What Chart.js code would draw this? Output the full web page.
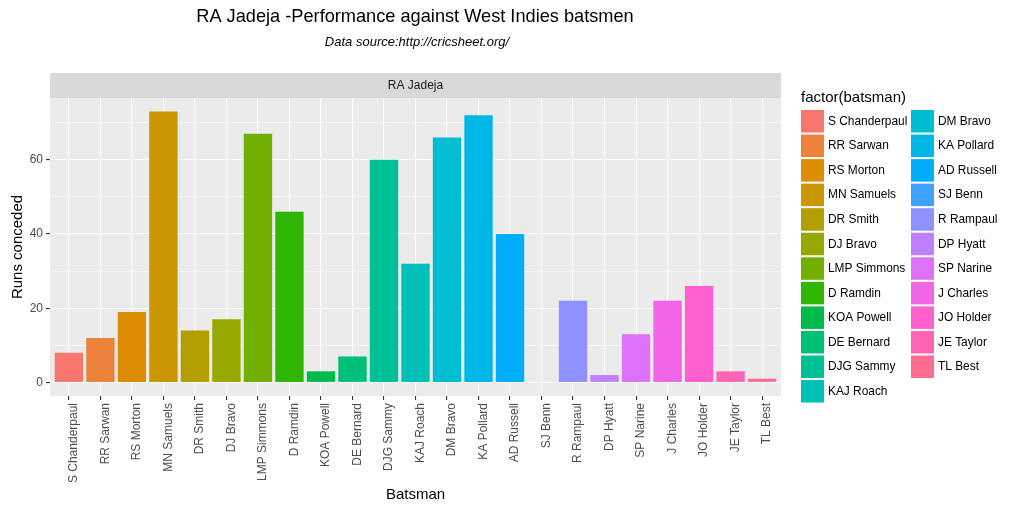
<!DOCTYPE html>
<html>
<head>
<meta charset="utf-8">
<script src="https://cdn.jsdelivr.net/npm/chart.js@4/dist/chart.umd.min.js"></script>
<style>
html,body{margin:0;padding:0;background:#fff;}
#wrap{width:1024px;height:512px;position:relative;}
</style>
</head>
<body>
<div id="wrap"><canvas id="c" width="1024" height="512"></canvas></div>
<script>
// ---- data ----
const chartTitle = "RA Jadeja -Performance against West Indies batsmen";
const chartSubtitle = "Data source:http://cricsheet.org/";
const facetLabel = "RA Jadeja";
const xAxisTitle = "Batsman";
const yAxisTitle = "Runs conceded";
const legendTitle = "factor(batsman)";
const batsmen = ["S Chanderpaul","RR Sarwan","RS Morton","MN Samuels","DR Smith","DJ Bravo","LMP Simmons","D Ramdin","KOA Powell","DE Bernard","DJG Sammy","KAJ Roach","DM Bravo","KA Pollard","AD Russell","SJ Benn","R Rampaul","DP Hyatt","SP Narine","J Charles","JO Holder","JE Taylor","TL Best"];
const runs = [8,12,19,73,14,17,67,46,3,7,60,32,66,72,40,0,22,2,13,22,26,3,1];
const yMajorTicks = [0,20,40,60];
const yMinorTicks = [10,30,50,70];

// ---- ggplot-like hue palette (styling) ----
function hcl(h, c, l) {
  const hr = h * Math.PI / 180;
  const u = c * Math.cos(hr), v = c * Math.sin(hr);
  const Xn = 95.047, Yn = 100, Zn = 108.883;
  const Y = l > 8 ? Yn * Math.pow((l + 16) / 116, 3) : Yn * l / 903.3;
  const d = Xn + 15 * Yn + 3 * Zn;
  const un = 4 * Xn / d, vn = 9 * Yn / d;
  const up = u / (13 * l) + un, vp = v / (13 * l) + vn;
  const X = Y * 9 * up / (4 * vp);
  const Z = Y * (12 - 3 * up - 20 * vp) / (4 * vp);
  const x = X / 100, y = Y / 100, z = Z / 100;
  let r = 3.240479 * x - 1.537150 * y - 0.498535 * z;
  let g = -0.969256 * x + 1.875992 * y + 0.041556 * z;
  let b = 0.055648 * x - 0.204043 * y + 1.057311 * z;
  const gam = t => { t = t <= 0.0031308 ? 12.92 * t : 1.055 * Math.pow(t, 1 / 2.4) - 0.055; return Math.round(Math.max(0, Math.min(1, t)) * 255); };
  return `rgb(${gam(r)},${gam(g)},${gam(b)})`;
}
const n = batsmen.length;
const colors = batsmen.map((_, i) => hcl(15 + i * 360 / n, 100, 65));

const FONT = "'Liberation Sans', Arial, sans-serif";

const decor = {
  id: 'decor',
  beforeDraw(chart) {
    const ctx = chart.ctx, a = chart.chartArea;
    ctx.save();
    ctx.fillStyle = '#fff';
    ctx.fillRect(0, 0, chart.width, chart.height);
    ctx.fillStyle = '#EBEBEB';
    ctx.fillRect(a.left, a.top, a.right - a.left, a.bottom - a.top);
    // strip
    ctx.fillStyle = '#D9D9D9';
    ctx.fillRect(a.left, a.top - 25, a.right - a.left, 25);
    ctx.fillStyle = '#1A1A1A';
    ctx.font = `12px ${FONT}`;
    ctx.textAlign = 'center';
    ctx.textBaseline = 'middle';
    ctx.fillText(facetLabel, (a.left + a.right) / 2, a.top - 12);
    ctx.restore();
  },
  afterDraw(chart) {
    const ctx = chart.ctx, a = chart.chartArea;
    ctx.save();
    ctx.fillStyle = '#000';
    ctx.textAlign = 'center';
    ctx.textBaseline = 'middle';
    ctx.font = `18.2px ${FONT}`;
    ctx.fillText(chartTitle, 415, 17);
    ctx.font = `italic 13px ${FONT}`;
    ctx.fillText(chartSubtitle, 417, 42);
    ctx.font = `15px ${FONT}`;
    ctx.fillText(xAxisTitle, (a.left + a.right) / 2, 495);
    ctx.save();
    ctx.translate(18, (a.top + a.bottom) / 2);
    ctx.rotate(-Math.PI / 2);
    ctx.fillText(yAxisTitle, 0, 0);
    ctx.restore();
    // legend
    ctx.textAlign = 'left';
    ctx.font = `15px ${FONT}`;
    ctx.fillText(legendTitle, 801, 98);
    ctx.font = `11.9px ${FONT}`;
    const perCol = Math.ceil(n / 2);
    batsmen.forEach((name, i) => {
      const col = Math.floor(i / perCol), row = i % perCol;
      const kx = col === 0 ? 801 : 911;
      const ky = 110 + row * 24.55;
      ctx.fillStyle = colors[i];
      ctx.fillRect(kx, ky, 23, 22.5);
      ctx.fillStyle = '#000';
      ctx.fillText(name, kx + 27, ky + 11.5);
    });
    ctx.restore();
  }
};

new Chart(document.getElementById('c'), {
  type: 'bar',
  data: {
    datasets: [{
      data: runs.map((v, i) => ({ x: i, y: v })),
      backgroundColor: colors,
      borderWidth: 0,
      barPercentage: 0.9,
      categoryPercentage: 1.0
    }]
  },
  options: {
    responsive: false,
    animation: false,
    devicePixelRatio: 1,
    layout: { padding: { top: 98, left: 0, right: 243, bottom: 0 } },
    plugins: { legend: { display: false }, tooltip: { enabled: false }, title: { display: false } },
    scales: {
      x: {
        type: 'linear',
        min: -0.6,
        max: n - 1 + 0.6,
        offset: false,
        border: { display: false },
        grid: { color: '#FFFFFF', lineWidth: 1.1, offset: false, drawTicks: true, tickLength: 4, tickColor: '#333333' },
        ticks: {
          autoSkip: false,
          minRotation: 90,
          maxRotation: 90,
          padding: 3,
          labelOffset: 5,
          color: '#4D4D4D',
          font: { family: FONT, size: 12 },
          callback: v => batsmen[v]
        },
        afterBuildTicks: s => { s.ticks = batsmen.map((_, i) => ({ value: i })); },
        afterFit: s => { s.height = 116; }
      },
      y: {
        min: -3.65,
        max: 76.65,
        border: { display: false },
        grid: {
          color: '#FFFFFF',
          lineWidth: c => (c.tick && c.tick.value % 20 === 0) ? 1.1 : 0.55,
          tickLength: 4,
          tickColor: c => (c.tick && c.tick.value % 20 === 0) ? '#333333' : 'rgba(0,0,0,0)'
        },
        ticks: {
          padding: 3,
          color: '#4D4D4D',
          font: { family: FONT, size: 12 },
          callback: v => (yMajorTicks.includes(v) ? String(v) : '')
        },
        afterBuildTicks: s => { s.ticks = yMajorTicks.concat(yMinorTicks).sort((a, b) => a - b).map(v => ({ value: v })); },
        afterFit: s => { s.width = 50; }
      }
    }
  },
  plugins: [decor]
});
</script>
</body>
</html>
